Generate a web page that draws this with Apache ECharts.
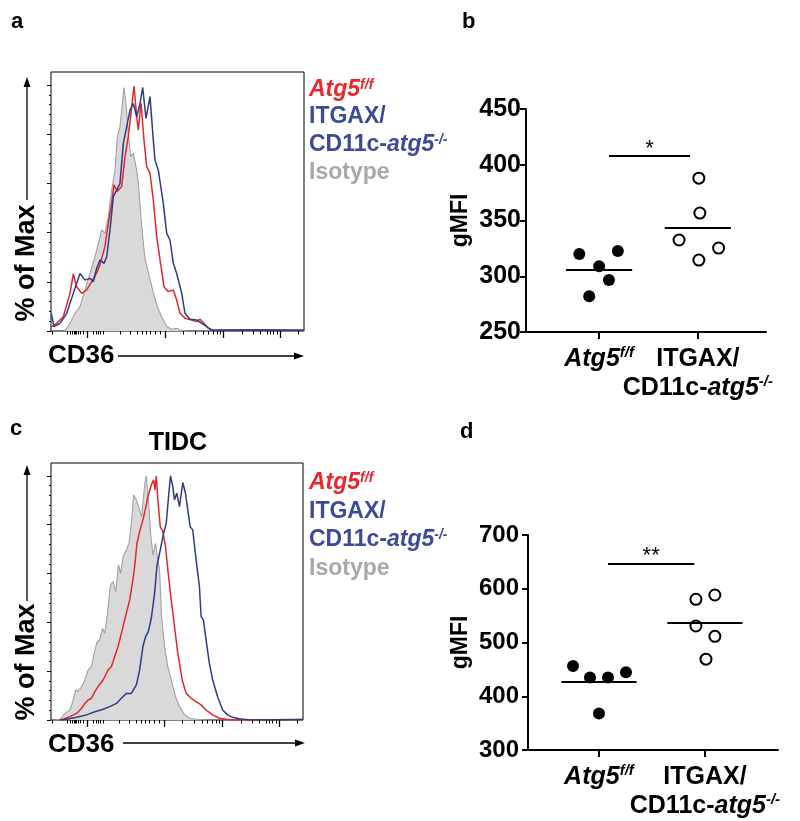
<!DOCTYPE html>
<html><head><meta charset="utf-8">
<script src="https://cdn.jsdelivr.net/npm/echarts@6.0.0/dist/echarts.min.js"></script>
<style>html,body{margin:0;padding:0;background:#fff}#chart{width:800px;height:821px}</style>
</head><body><div id="chart"></div>
<script>
const FONT = '"Liberation Sans", Arial, Helvetica, sans-serif';
const RED = '#e3262b', BLUE = '#2e3b8c', GRAYLINE = '#a0a0a0', GRAYFILL = '#d9d9d9';
const RED_TXT = '#e8262b', BLUE_TXT = '#3c4a9c', GRAY_TXT = '#a8a8a8';

// ---------- histogram axes (channel units, % of max) ----------
const histXMax = 253;
const histYMax = 105.3;
const histXMajorTicks = [36, 114, 172, 229];
const histXMinorTicks = [1,16,19,21,23,24,25,27,29,32,42,45,47,49,52,69,79,86,91,95,99,104,109,132,144,152,157,162,166,169,191,202,209,216,219,222,226,247];
const histYMajorTicks = [0, 20, 40, 60, 80, 100];
const histYMinorPerMajor = 4;

// ---------- panel a: CD36 histograms ----------
const aIsotype = [[14,0],[19,3.1],[24,7.2],[29,9.9],[34,16.7],[39,23.4],[44,30.2],[48.3,37.0],[50.7,41.1],[54,39.7],[57.3,46.5],[60.7,57.3],[64,65.4],[66.3,79.0],[69,83.1],[71.7,93.9],[73,99.0],[75,92.5],[77.3,80.4],[79.7,70.9],[82.3,72.2],[85.7,65.4],[87.3,60.3],[90.7,42.7],[94,29.3],[98.3,22.2],[102.3,15.7],[106.3,9.9],[110.7,5.8],[115.7,1.8],[120.7,0.7],[125.7,1.1],[130.7,0.2],[135.7,0]];
const aAtg5ff = [[0.7,1.8],[5.7,3.1],[12.3,5.8],[19,15.3],[22.3,23.2],[25.7,18.0],[30.7,15.3],[35.7,16.7],[40.7,20.1],[45.7,23.6],[49,27.0],[54,34.4],[57.3,43.9],[60.7,52.0],[63,59.4],[66.3,56.7],[70.7,58.8],[74,70.9],[77.3,79.0],[80.7,91.2],[83,99.6],[85.7,87.2],[87.3,81.7],[90,92.6],[93,77.6],[95.7,66.8],[99,64.1],[102.3,53.3],[105.7,38.4],[109,29.0],[113,18.0],[117.3,16.0],[122.3,16.7],[125.7,12.6],[129,7.2],[134,5.2],[140.7,4.5],[145.7,3.8],[149,4.8],[153,3.1],[157.3,1.1],[162.3,0.3],[200,0.5],[253,0.3]];
const aKO = [[0.3,7.2],[3,1.8],[9,3.1],[15.7,7.2],[22.3,15.3],[25.7,19.4],[29,23.4],[34,20.7],[39,21.4],[42.3,20.0],[45.7,25.5],[49,28.9],[53,27.5],[55.7,30.2],[59,41.1],[62.3,54.6],[65.7,57.3],[69,60.0],[72.3,76.3],[75.7,83.1],[79,89.8],[82.3,92.5],[85.7,87.1],[89,92.5],[91.7,99.0],[95,86.4],[99,95.3],[102.3,77.6],[104,69.5],[107.3,65.4],[112.3,51.9],[115.7,39.7],[119,37.0],[122.3,27.5],[125.7,23.4],[130.7,15.3],[134,7.2],[139,4.8],[145.7,4.5],[150.7,3.1],[155.7,1.8],[160.7,0.3],[200,0.4],[253,0.3]];

// ---------- panel c: TIDC CD36 histograms ----------
const cIsotype = [[5,0],[9,0.3],[14,2.7],[19,4.1],[22.3,8.2],[25,12.3],[27.3,11.6],[30.7,13.7],[34,16.4],[37.3,20.5],[40.7,21.9],[43.3,27.3],[46.3,32.1],[49,32.8],[51.7,37.6],[54,35.5],[56.7,43.7],[59.7,55.3],[62.3,56.7],[65,52.6],[67.7,63.5],[70,60.1],[72.3,66.9],[75.7,69.7],[78.3,72.4],[80.7,80.6],[83,92.2],[85.7,90.2],[88.3,86.8],[91,83.3],[94,96.3],[95.7,100],[98,88.8],[100,76.5],[102.3,67.6],[105,72.4],[106.7,66.9],[109,61.5],[111,42.4],[114,30.1],[117.3,21.9],[120.7,16.4],[125,9.6],[129,5.5],[134,2.3],[139,0.7],[145.7,0.3],[155.7,0]];
const cAtg5ff = [[8,0],[12.3,0.3],[19,1.4],[25.7,2.7],[30.7,4.8],[34,6.8],[37.3,8.2],[40.7,8.9],[44,11.6],[47.3,13.7],[52.3,16.4],[57.3,20.5],[60.7,21.9],[64,26.0],[67.3,30.1],[70.7,35.5],[74,41.0],[77.3,46.5],[79,49.2],[81.7,56.0],[84,62.9],[86.3,72.4],[89,77.2],[92.3,82.0],[95,86.8],[97.3,91.5],[100.7,96.3],[103,98.4],[104.3,94.3],[105.7,100],[107.3,90.2],[109.7,79.2],[112.3,77.2],[115,71.0],[117.3,61.5],[120.7,49.2],[124,38.3],[127.3,27.3],[131.7,16.4],[135.7,10.9],[140.7,8.9],[145.7,7.5],[150.7,6.2],[155.7,4.1],[162.3,2.1],[169,0.7],[175.7,0.3],[182.3,0],[253,0.2]];
const cKO = [[10,0],[15.7,0.3],[25.7,1.1],[35.7,2.1],[44,3.4],[52.3,4.4],[59,5.5],[65.7,6.8],[70.7,8.9],[75.7,10.9],[80.7,10.9],[85.7,14.4],[89,20.5],[92.3,30.1],[95,34.2],[97.7,36.2],[100.7,41.7],[104,51.9],[106.3,62.9],[109.7,69.7],[113,76.5],[115.7,80.6],[118.3,92.9],[120,100],[122.3,95.6],[124,90.2],[126.3,92.9],[129,87.4],[132.3,97.3],[135,92.9],[137.3,86.1],[139.7,79.2],[142.3,77.9],[145.7,65.6],[149,54.7],[150.7,42.4],[153,41.0],[155.7,32.8],[159,23.2],[162.3,16.4],[167.3,9.5],[172.3,4.1],[177.3,2.1],[182.3,1.1],[189,0.5],[200,0],[253,0.2]];

// ---------- panel b: gMFI (total) ----------
const groupPos = [1, 2];
const groupLabels = ['{i|Atg5}{s|f/f}', '{n|ITGAX/}\n{n|CD11c-}{i|atg5}{s|-/-}'];
const bAtg5ff = [320, 322.6, 309, 296.6, 282];
const bAtg5ffJitter = [-0.20, 0.19, 0, 0.10, -0.10];
const bKO = [388, 356.7, 332.5, 325.3, 314.5];
const bKOJitter = [0.01, 0.02, -0.19, 0.21, 0.01];
const bYMin = 250, bYMax = 450, bYStep = 50;
const bSig = {from: 1.10, to: 1.92, y: 408, text: '*'};

// ---------- panel d: gMFI (TIDC) ----------
const dAtg5ff = [456.3, 435, 435, 444.5, 368];
const dAtg5ffJitter = [-0.245, -0.085, 0.085, 0.255, 0];
const dKO = [580.4, 588.4, 530.7, 511.5, 469];
const dKOJitter = [-0.085, 0.094, -0.085, 0.094, 0.01];
const dYMin = 300, dYMax = 700, dYStep = 100;
const dSig = {from: 1.085, to: 1.90, y: 647, text: '**'};

// ---------- helpers ----------
const histYMinorTicks = [];
for (let i = 0; i < histYMajorTicks.length - 1; i++) {
  const a = histYMajorTicks[i], b = histYMajorTicks[i + 1];
  for (let k = 1; k <= histYMinorPerMajor; k++) histYMinorTicks.push(a + (b - a) * k / (histYMinorPerMajor + 1));
}
const mean = arr => arr.reduce((s, v) => s + v, 0) / arr.length;

function histXAxes(grid) {
  const base = {type: 'value', gridIndex: grid, min: 0, max: histXMax, position: 'bottom', offset: 0,
    axisLine: {show: false}, axisLabel: {show: false}, splitLine: {show: false}};
  return [
    Object.assign({}, base, {axisTick: {show: true, inside: false, length: 7, customValues: histXMajorTicks, lineStyle: {color: '#000', width: 1.3}}}),
    Object.assign({}, base, {axisTick: {show: true, inside: false, length: 3.5, customValues: histXMinorTicks, lineStyle: {color: '#000', width: 1}}})
  ];
}
function histYAxes(grid) {
  const base = {type: 'value', gridIndex: grid, min: 0, max: histYMax, position: 'left', offset: 0,
    axisLine: {show: false}, axisLabel: {show: false}, splitLine: {show: false}};
  return [
    Object.assign({}, base, {axisTick: {show: true, length: 4, customValues: histYMajorTicks, lineStyle: {color: '#000', width: 1}}}),
    Object.assign({}, base, {axisTick: {show: true, length: 2, customValues: histYMinorTicks, lineStyle: {color: '#000', width: 1}}})
  ];
}
function histSeries(xi, yi, iso, wt, ko) {
  return [
    {type: 'line', xAxisIndex: xi, yAxisIndex: yi, data: iso, symbol: 'none', z: 2,
      lineStyle: {color: GRAYLINE, width: 1.1}, areaStyle: {color: GRAYFILL, opacity: 1}},
    {type: 'line', xAxisIndex: xi, yAxisIndex: yi, data: wt, symbol: 'none', z: 3,
      lineStyle: {color: RED, width: 1.5}},
    {type: 'line', xAxisIndex: xi, yAxisIndex: yi, data: ko, symbol: 'none', z: 4,
      lineStyle: {color: BLUE, width: 1.5}}
  ];
}
const xRich = {
  n: {fontFamily: FONT, fontSize: 25, fontWeight: 'bold', color: '#000', lineHeight: 29, align: 'center'},
  i: {fontFamily: FONT, fontSize: 25, fontWeight: 'bold', fontStyle: 'italic', color: '#000', lineHeight: 29, align: 'center'},
  s: {fontFamily: FONT, fontSize: 15, fontWeight: 'bold', fontStyle: 'italic', color: '#000', lineHeight: 15, verticalAlign: 'top', align: 'center'}
};

// one axis per group label so that the two labels never compete in overlap checks
function scatterXAxes(grid, min, max, tickLen) {
  return groupPos.map((pos, k) => ({
    type: 'value', gridIndex: grid, min: min, max: max, position: 'bottom', offset: 0,
    axisLine: {show: k === 0, onZero: false, lineStyle: {color: '#000', width: 2}},
    axisTick: {show: k === 0, length: tickLen, customValues: groupPos, lineStyle: {color: '#000', width: 2}},
    axisLabel: {show: true, customValues: [pos], margin: 13, hideOverlap: false,
      formatter: () => groupLabels[k], rich: xRich},
    splitLine: {show: false}
  }));
}
function scatterYAxis(grid, min, max, step, fs, margin, gap) {
  return {type: 'value', gridIndex: grid, min: min, max: max, interval: step, position: 'left',
    axisLine: {show: true, lineStyle: {color: '#000', width: 2}},
    axisTick: {show: true, length: 6, lineStyle: {color: '#000', width: 2}},
    axisLabel: {show: true, fontFamily: FONT, fontSize: fs, fontWeight: 'bold', color: '#000', margin: margin},
    splitLine: {show: false},
    name: 'gMFI', nameLocation: 'middle', nameRotate: 90, nameGap: gap,
    nameTextStyle: {fontFamily: FONT, fontSize: 23, fontWeight: 'bold', color: '#000'}};
}
function meanLine(pos, vals, hw) {
  const m = mean(vals);
  return [{coord: [pos - hw, m]}, {coord: [pos + hw, m]}];
}
function scatterSeries(xi, yi, wt, wtJ, ko, koJ, hw, sig, starDist) {
  return [
    {type: 'scatter', xAxisIndex: xi, yAxisIndex: yi, symbol: 'circle', symbolSize: 12, z: 3,
      itemStyle: {color: '#000', opacity: 1}, data: wt.map((v, i) => [groupPos[0] + wtJ[i], v]),
      markLine: {silent: true, symbol: ['none', 'none'], z: 5, label: {show: false},
        lineStyle: {color: '#000', width: 2, type: 'solid', opacity: 1}, emphasis: {disabled: true},
        data: [meanLine(groupPos[0], wt, hw)]}},
    {type: 'scatter', xAxisIndex: xi, yAxisIndex: yi, symbol: 'circle', symbolSize: 11, z: 3,
      itemStyle: {color: '#fff', borderColor: '#000', borderWidth: 2, opacity: 1}, data: ko.map((v, i) => [groupPos[1] + koJ[i], v]),
      markLine: {silent: true, symbol: ['none', 'none'], z: 5,
        lineStyle: {color: '#000', width: 2, type: 'solid', opacity: 1}, emphasis: {disabled: true},
        data: [
          meanLine(groupPos[1], ko, hw).map(p => Object.assign(p, {label: {show: false}})),
          [{coord: [sig.from, sig.y], label: {show: true, position: 'middle', formatter: sig.text, distance: starDist,
              fontFamily: FONT, fontSize: 22, color: '#000'}}, {coord: [sig.to, sig.y]}]
        ]}}
  ];
}

// ---------- graphic decorations ----------
function txt(x, y, text, opts) {
  return {type: 'text', x: x, y: y, rotation: opts.rotation || 0, z: 10,
    style: Object.assign({text: text, fontFamily: FONT, fontWeight: 'bold', fontSize: 22, fill: '#000',
      align: 'left', verticalAlign: 'middle'}, opts.style || {})};
}
function legendRich(fs) {
  const sfs = Math.round(fs * 0.62);
  return {
    r: {fontFamily: FONT, fontSize: fs, fontWeight: 'bold', fontStyle: 'italic', fill: RED_TXT, color: RED_TXT},
    rs: {fontFamily: FONT, fontSize: sfs, fontWeight: 'bold', fontStyle: 'italic', fill: RED_TXT, color: RED_TXT, verticalAlign: 'top'},
    b: {fontFamily: FONT, fontSize: fs, fontWeight: 'bold', fill: BLUE_TXT, color: BLUE_TXT},
    bi: {fontFamily: FONT, fontSize: fs, fontWeight: 'bold', fontStyle: 'italic', fill: BLUE_TXT, color: BLUE_TXT},
    bs: {fontFamily: FONT, fontSize: sfs, fontWeight: 'bold', fontStyle: 'italic', fill: BLUE_TXT, color: BLUE_TXT, verticalAlign: 'top'},
    g: {fontFamily: FONT, fontSize: fs, fontWeight: 'bold', fill: GRAY_TXT, color: GRAY_TXT}
  };
}
function legend(x, ys) {
  const rich = legendRich(23);
  const lines = ['{r|Atg5}{rs|f/f}', '{b|ITGAX/}', '{b|CD11c-}{bi|atg5}{bs|-/-}', '{g|Isotype}'];
  return lines.map((t, i) => ({type: 'text', x: x, y: ys[i], z: 10,
    style: {text: t, rich: rich, align: 'left', verticalAlign: 'middle', fontFamily: FONT, fontSize: 23, fontWeight: 'bold'}}));
}
function arrowUp(x, yBottom, yTip) {
  return [
    {type: 'line', z: 10, shape: {x1: x, y1: yBottom, x2: x, y2: yTip + 8}, style: {stroke: '#000', lineWidth: 1.3}},
    {type: 'polygon', z: 10, shape: {points: [[x, yTip], [x - 3.5, yTip + 10], [x + 3.5, yTip + 10]]}, style: {fill: '#000'}}
  ];
}
function arrowRight(xStart, xTip, y) {
  return [
    {type: 'line', z: 10, shape: {x1: xStart, y1: y, x2: xTip - 8, y2: y}, style: {stroke: '#000', lineWidth: 1.3}},
    {type: 'polygon', z: 10, shape: {points: [[xTip, y], [xTip - 10, y - 3.5], [xTip - 10, y + 3.5]]}, style: {fill: '#000'}}
  ];
}

const graphics = [].concat(
  [txt(11, 22.4, 'a', {}), txt(462, 22.4, 'b', {}), txt(10, 429, 'c', {}), txt(460, 432.4, 'd', {})],
  [txt(178, 443, 'TIDC', {style: {fontSize: 25, align: 'center'}})],
  legend(309, [90, 117, 145, 173]),
  legend(309, [483, 512, 540, 569]),
  [txt(27, 263, '% of Max', {rotation: Math.PI / 2, style: {fontSize: 27, align: 'center'}}),
   txt(27, 662, '% of Max', {rotation: Math.PI / 2, style: {fontSize: 27, align: 'center'}}),
   txt(48, 356, 'CD36', {style: {fontSize: 26}}),
   txt(48, 745, 'CD36', {style: {fontSize: 26}})],
  arrowUp(27, 200, 77), arrowUp(27, 601, 465),
  arrowRight(118, 304, 356), arrowRight(123, 305, 743)
);

const option = {
  animation: false,
  backgroundColor: '#fff',
  grid: [
    {left: 51, top: 72, width: 253, height: 259, show: true, borderColor: '#000', borderWidth: 1, backgroundColor: 'transparent'},
    {left: 526, top: 109, width: 240, height: 223},
    {left: 51, top: 463, width: 252, height: 257, show: true, borderColor: '#000', borderWidth: 1, backgroundColor: 'transparent'},
    {left: 528, top: 535, width: 250, height: 215}
  ],
  xAxis: [].concat(
    histXAxes(0),                          // 0,1
    scatterXAxes(1, 0.26, 2.69, 7),        // 2,3
    histXAxes(2),                          // 4,5
    scatterXAxes(3, 0.33, 2.69, 7)         // 6,7
  ),
  yAxis: [].concat(
    histYAxes(0),                                             // 0,1
    [scatterYAxis(1, bYMin, bYMax, bYStep, 25, 5, 54)],       // 2
    histYAxes(2),                                             // 3,4
    [scatterYAxis(3, dYMin, dYMax, dYStep, 24, 9, 56)]        // 5
  ),
  series: [].concat(
    histSeries(0, 0, aIsotype, aAtg5ff, aKO),
    scatterSeries(2, 2, bAtg5ff, bAtg5ffJitter, bKO, bKOJitter, 0.335, bSig, -4),
    histSeries(4, 3, cIsotype, cAtg5ff, cKO),
    scatterSeries(6, 5, dAtg5ff, dAtg5ffJitter, dKO, dKOJitter, 0.355, dSig, -3)
  ),
  graphic: graphics
};
const chart = echarts.init(document.getElementById('chart'), null, {renderer: 'canvas'});
chart.setOption(option);
</script></body></html>
